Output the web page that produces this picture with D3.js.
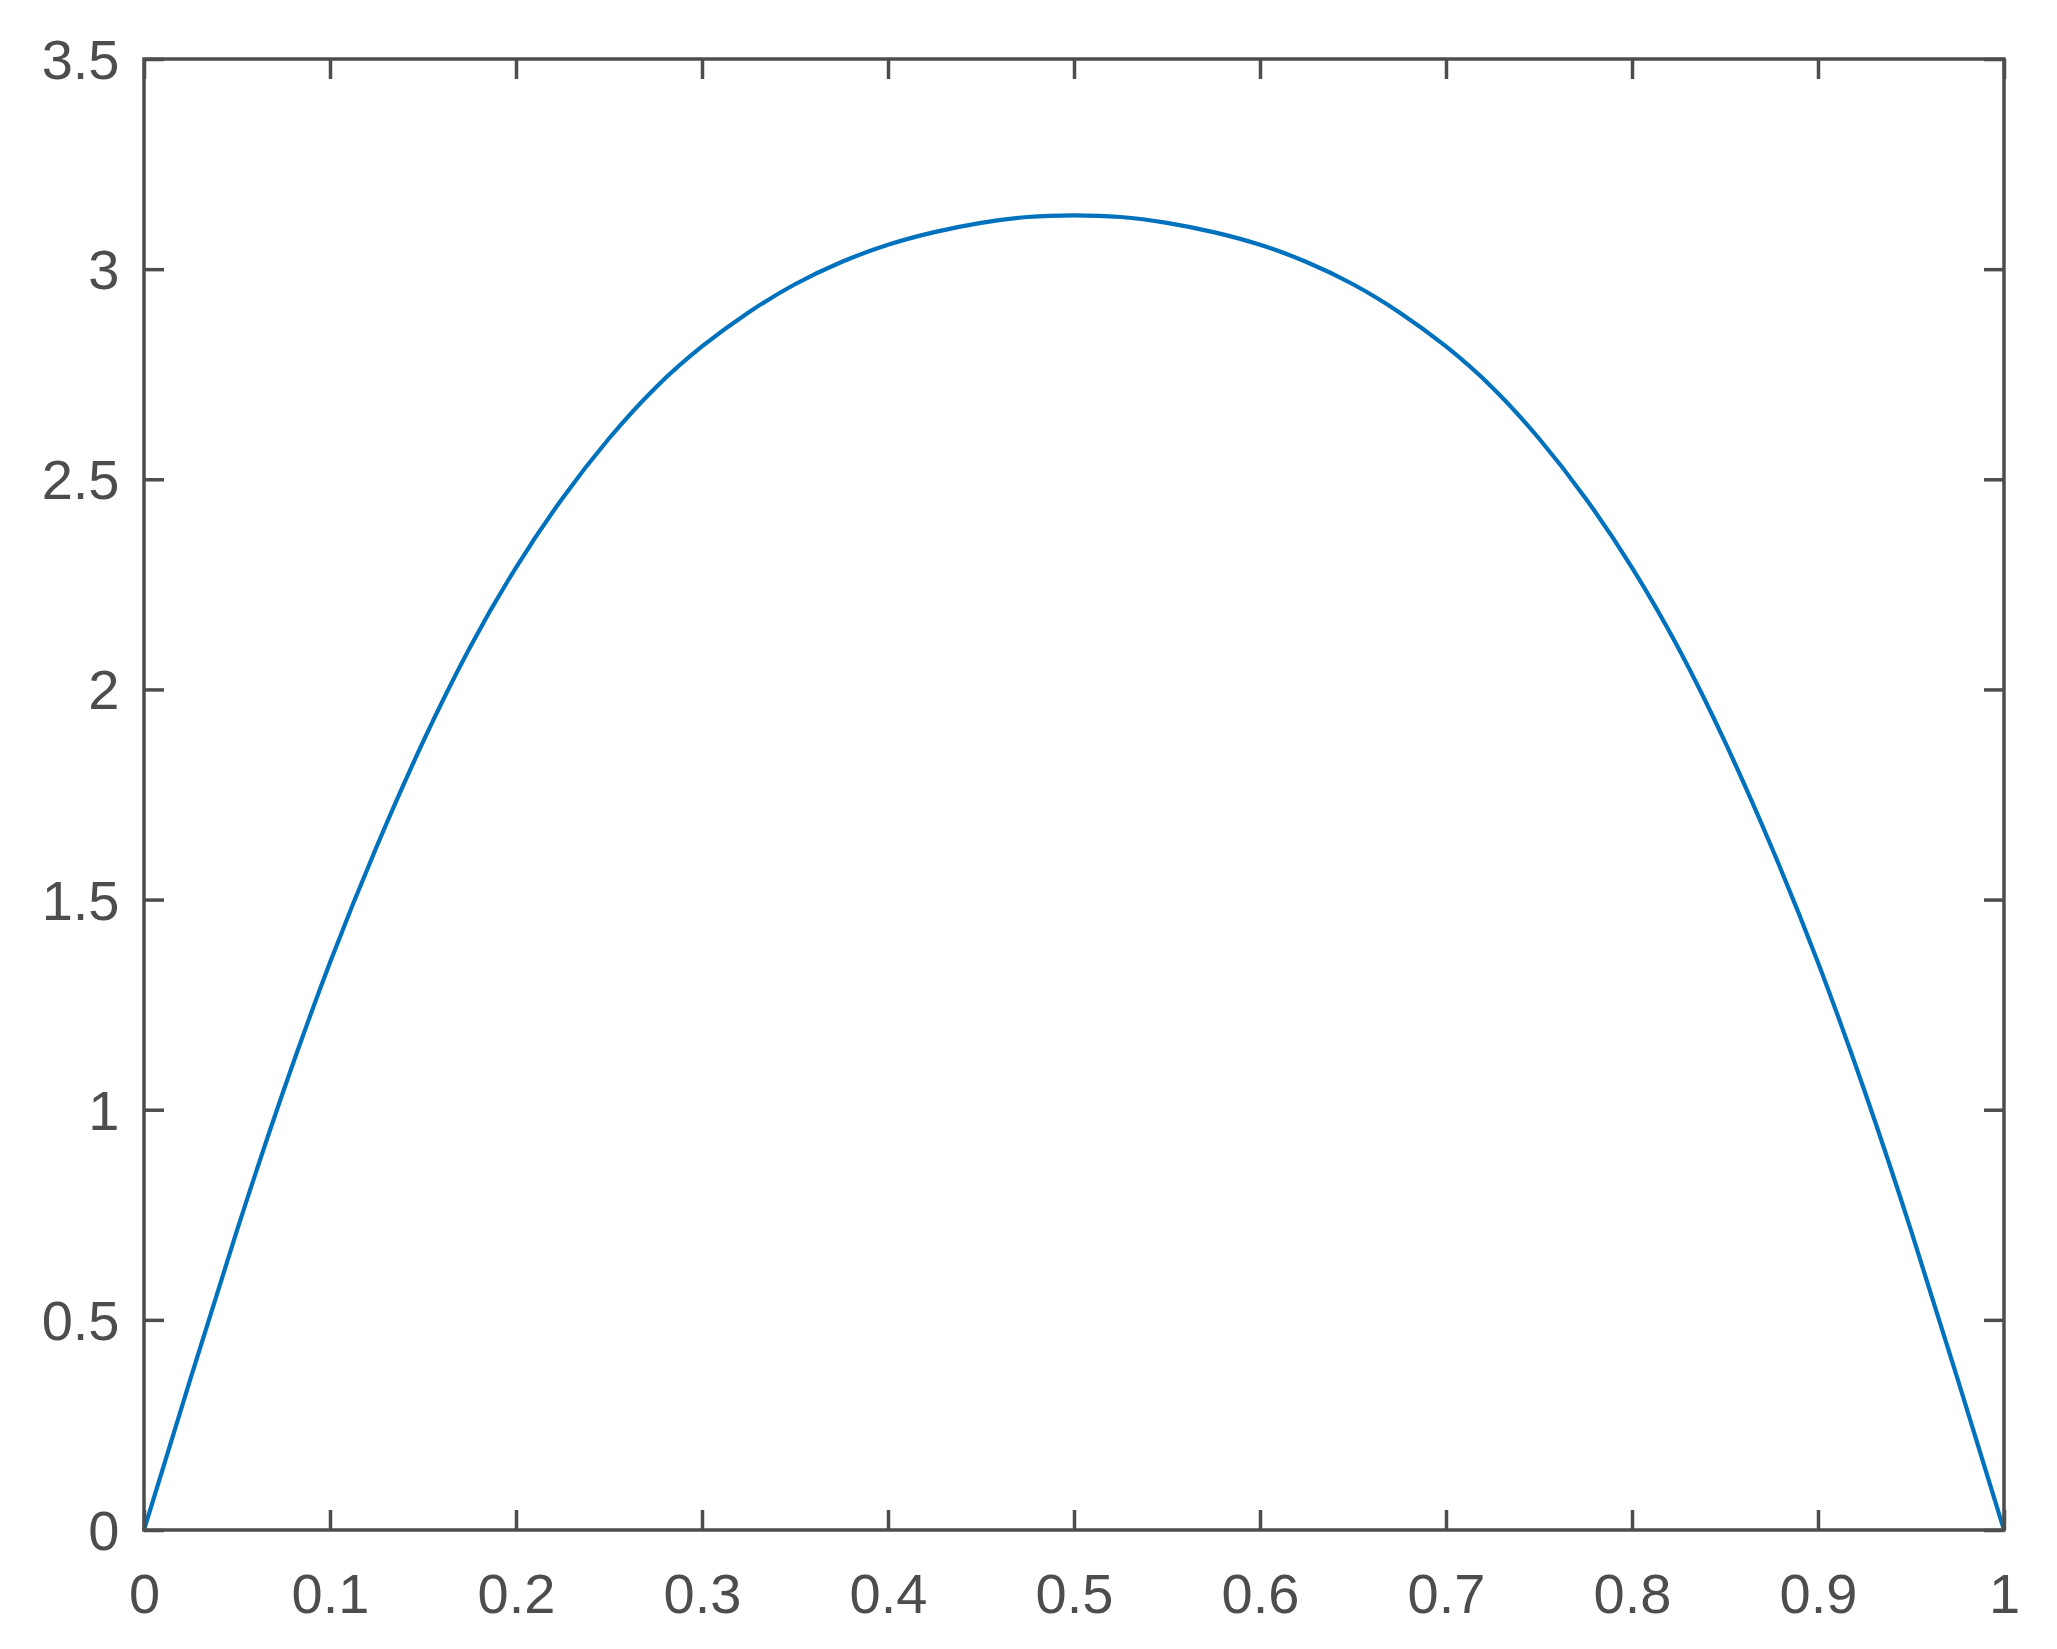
<!DOCTYPE html>
<html>
<head>
<meta charset="utf-8">
<script src="https://cdn.jsdelivr.net/npm/d3@7"></script>
<style>
  html, body { margin: 0; padding: 0; background: #ffffff; }
  svg { display: block; }
</style>
</head>
<body>
<svg id="chart" width="2057" height="1649"></svg>
<script>
// ---- data ----
const xValues = [0, 0.025, 0.05, 0.075, 0.1, 0.125, 0.15, 0.175, 0.2, 0.225, 0.25,
  0.275, 0.3, 0.325, 0.35, 0.375, 0.4, 0.425, 0.45, 0.475, 0.5,
  0.525, 0.55, 0.575, 0.6, 0.625, 0.65, 0.675, 0.7, 0.725, 0.75,
  0.775, 0.8, 0.825, 0.85, 0.875, 0.9, 0.925, 0.95, 0.975, 1];
const yValues = [0, 0.36, 0.713, 1.045, 1.35, 1.625, 1.875, 2.098, 2.29, 2.455, 2.597,
  2.718, 2.816, 2.897, 2.964, 3.017, 3.058, 3.088, 3.11, 3.124, 3.128,
  3.124, 3.11, 3.088, 3.058, 3.017, 2.964, 2.897, 2.816, 2.718, 2.597,
  2.455, 2.29, 2.098, 1.875, 1.625, 1.35, 1.045, 0.713, 0.36, 0];
const xTicks = [0, 0.1, 0.2, 0.3, 0.4, 0.5, 0.6, 0.7, 0.8, 0.9, 1];
const yTicks = [0, 0.5, 1, 1.5, 2, 2.5, 3, 3.5];
const xTickLabels = ["0", "0.1", "0.2", "0.3", "0.4", "0.5", "0.6", "0.7", "0.8", "0.9", "1"];
const yTickLabels = ["0", "0.5", "1", "1.5", "2", "2.5", "3", "3.5"];

// ---- layout ----
const plot = { left: 144, top: 59, right: 2004, bottom: 1530 };
const axisColor = "#4d4d4d";
const lineColor = "#0072bd";
const font = "'Liberation Sans', Arial, Helvetica, sans-serif";
const fontSize = 56;
const tickLen = 20;
const strokeW = 3.5;

const svg = d3.select("#chart");

const x = d3.scaleLinear().domain([0, 1]).range([plot.left, plot.right]);
const y = d3.scaleLinear().domain([0, 3.5]).range([plot.bottom, plot.top]);

// data line
const data = xValues.map((v, i) => [v, yValues[i]]);
svg.append("path")
  .datum(data)
  .attr("fill", "none")
  .attr("stroke", lineColor)
  .attr("stroke-width", 4.2)
  .attr("stroke-linejoin", "round")
  .attr("d", d3.line().x(d => x(d[0])).y(d => y(d[1])).curve(d3.curveNatural));

function styleAxis(g) {
  g.select(".domain").remove();
  g.selectAll(".tick line").attr("stroke", axisColor).attr("stroke-width", strokeW);
  g.selectAll(".tick text")
    .attr("fill", axisColor)
    .style("font-family", font)
    .style("font-size", fontSize + "px");
}

// bottom axis
const gBottom = svg.append("g")
  .attr("transform", `translate(0,${plot.bottom})`)
  .call(d3.axisBottom(x).tickValues(xTicks)
    .tickFormat((d, i) => xTickLabels[i])
    .tickSizeInner(-tickLen).tickSizeOuter(0));
styleAxis(gBottom);
gBottom.selectAll(".tick text").attr("y", 83).attr("dy", 0).attr("text-anchor", "middle");

// left axis
const gLeft = svg.append("g")
  .attr("transform", `translate(${plot.left},0)`)
  .call(d3.axisLeft(y).tickValues(yTicks)
    .tickFormat((d, i) => yTickLabels[i])
    .tickSizeInner(-tickLen).tickSizeOuter(0));
styleAxis(gLeft);
gLeft.selectAll(".tick text").attr("x", -24.5).attr("dy", 0).attr("y", 19.5).attr("text-anchor", "end");

// top axis (ticks only)
const gTop = svg.append("g")
  .attr("transform", `translate(0,${plot.top})`)
  .call(d3.axisTop(x).tickValues(xTicks).tickFormat(() => "")
    .tickSizeInner(-tickLen).tickSizeOuter(0));
styleAxis(gTop);

// right axis (ticks only)
const gRight = svg.append("g")
  .attr("transform", `translate(${plot.right},0)`)
  .call(d3.axisRight(y).tickValues(yTicks).tickFormat(() => "")
    .tickSizeInner(-tickLen).tickSizeOuter(0));
styleAxis(gRight);

// box
svg.append("rect")
  .attr("x", plot.left).attr("y", plot.top)
  .attr("width", plot.right - plot.left).attr("height", plot.bottom - plot.top)
  .attr("fill", "none")
  .attr("stroke", axisColor)
  .attr("stroke-width", strokeW);
</script>
</body>
</html>
